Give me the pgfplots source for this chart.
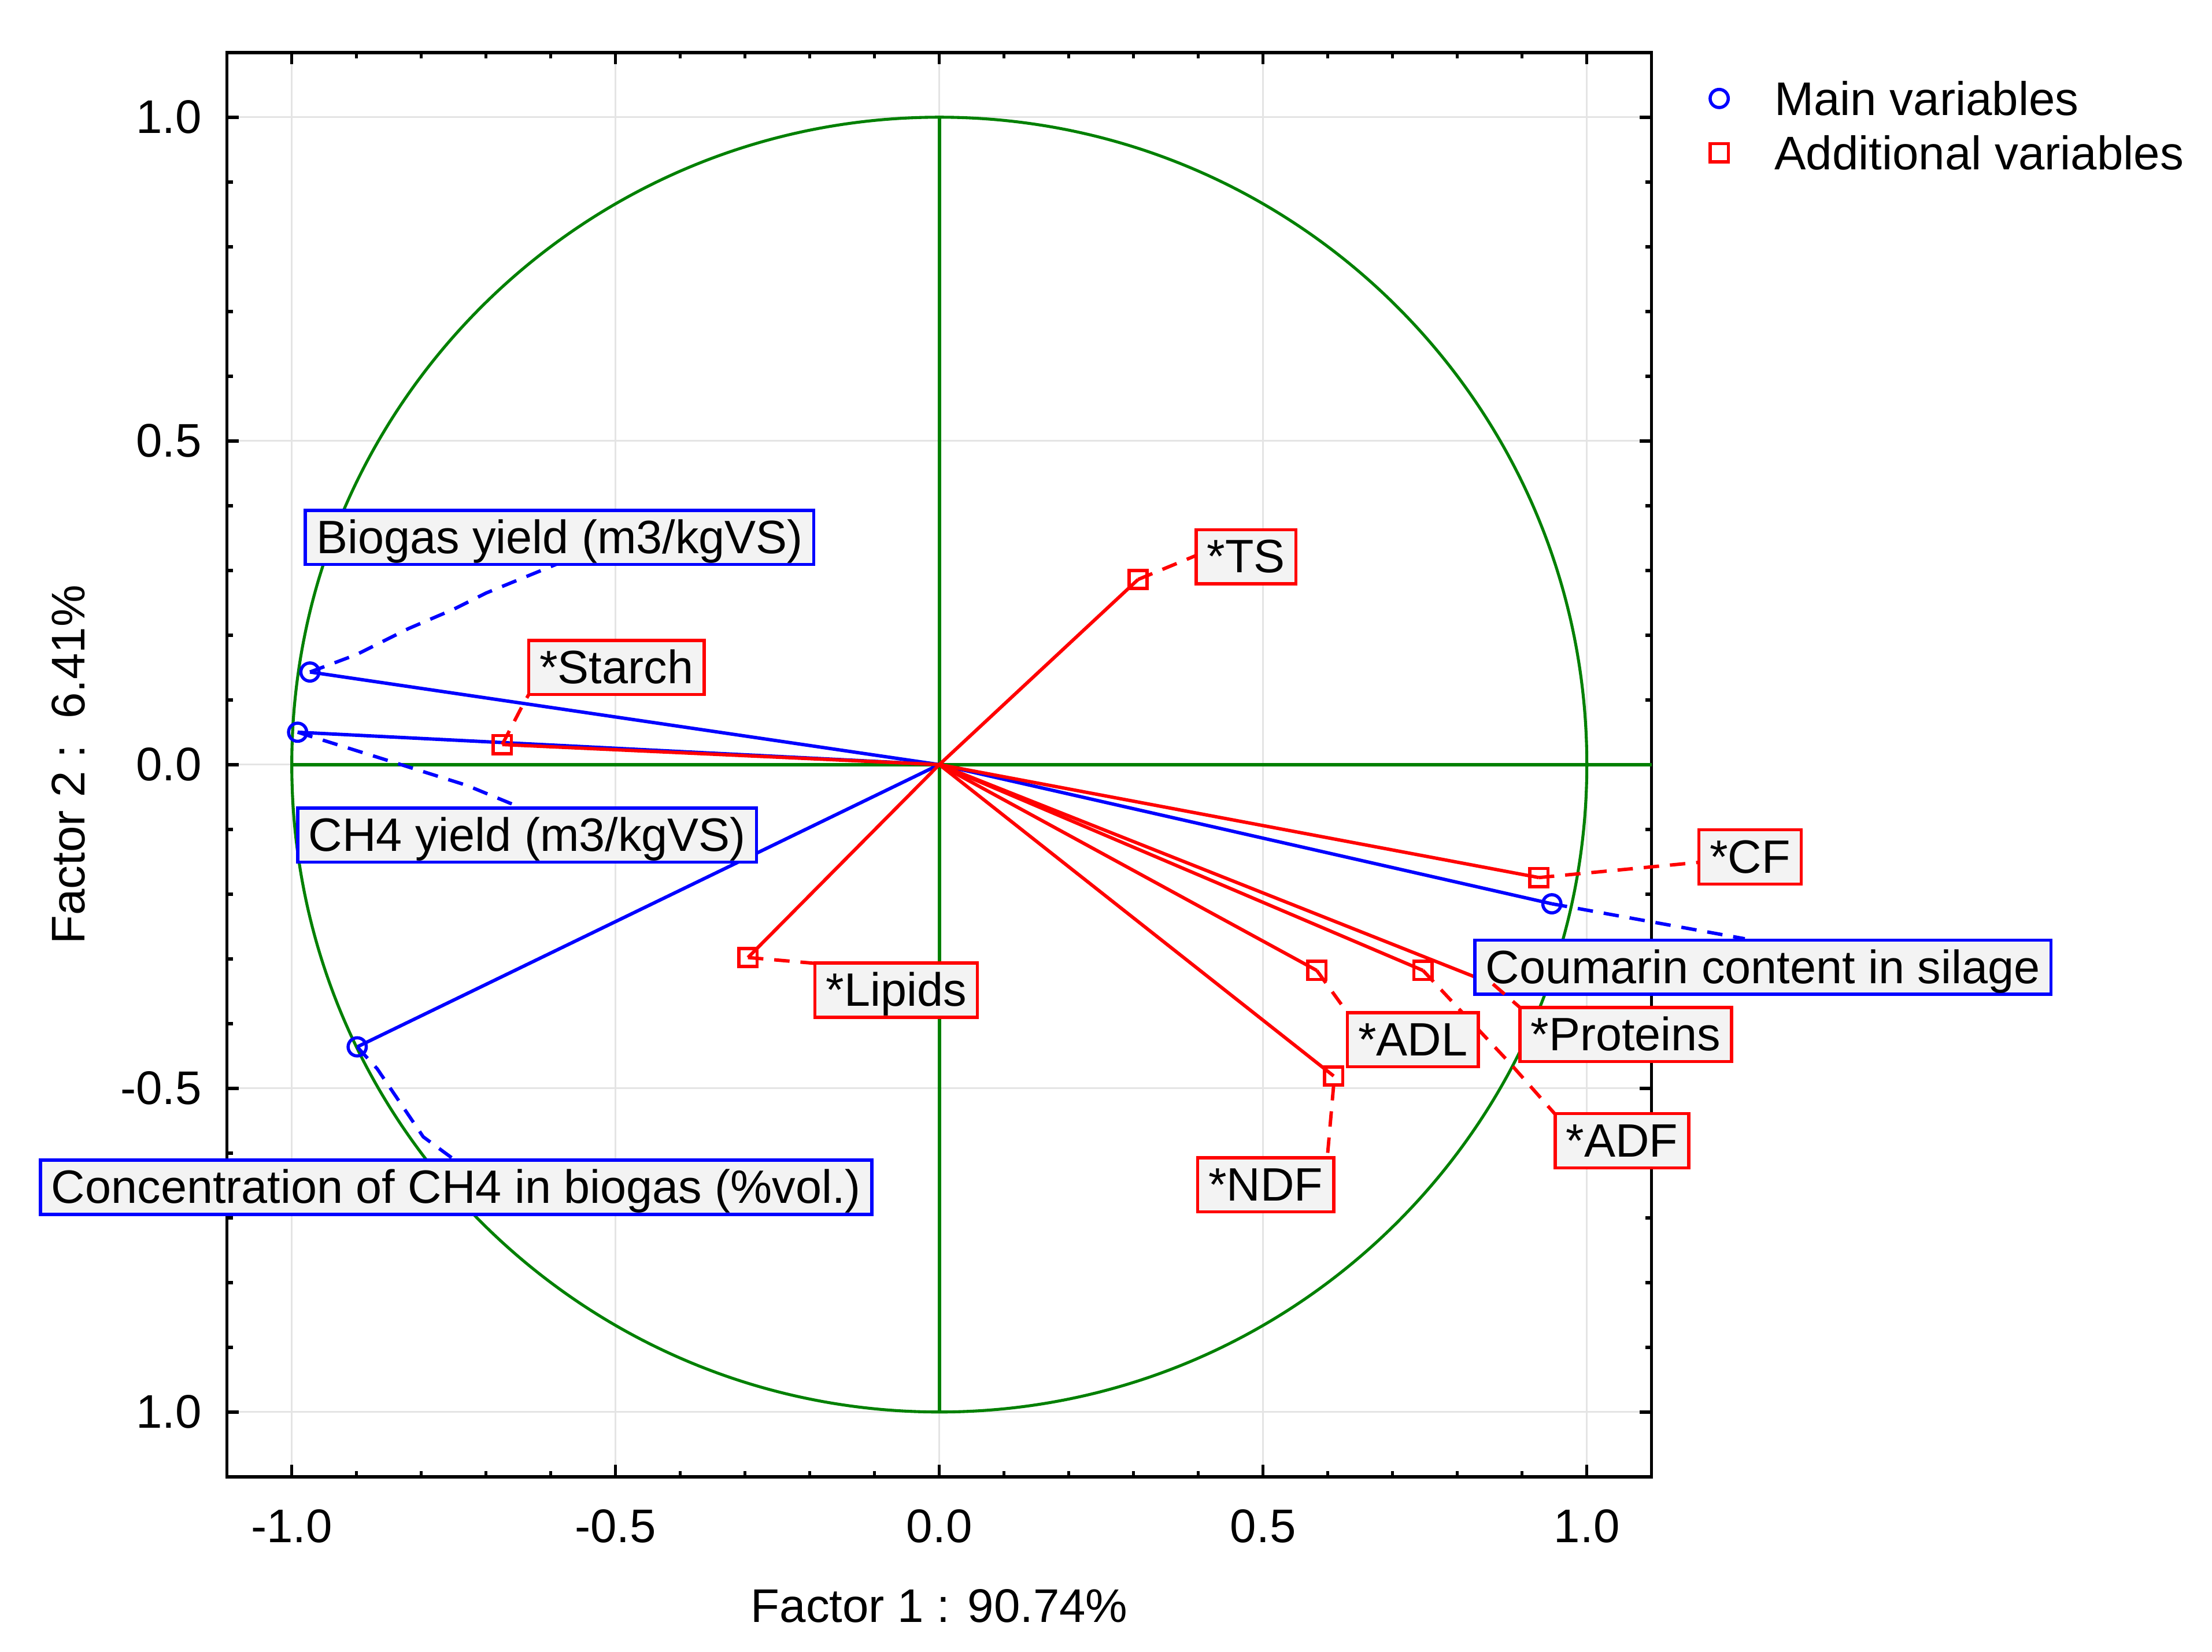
\documentclass[border=0pt]{standalone}
\usepackage{pgfplots}
\pgfplotsset{compat=1.18}
\usepackage{fontspec}
\setmainfont{Liberation Sans}
\definecolor{cgreen}{RGB}{0,128,0}
\definecolor{cblue}{RGB}{0,0,255}
\definecolor{cred}{RGB}{255,0,0}
\definecolor{boxfill}{RGB}{243,243,243}
\definecolor{gridgray}{RGB}{228,228,228}
\tikzset{
  lab/.style={draw=#1, fill=boxfill, line width=0.7pt, inner xsep=2.4pt, inner ysep=0pt,
    outer sep=0pt, text height=9.5pt, text depth=2.45pt, anchor=west,
    font=\fontsize{10.32}{12}\selectfont},
  conn/.style={#1, line width=0.75pt, dash pattern=on 3.4pt off 2.4pt},
}
\begin{document}
\begin{tikzpicture}
\useasboundingbox (-50.04pt,-38.63pt) rectangle (437.47pt,325.53pt);
\begin{axis}[
  at={(0pt,0pt)}, anchor=south west,
  scale only axis, width=313.96pt, height=313.96pt,
  xmin=-1.1, xmax=1.1, ymin=-1.1, ymax=1.1,
  clip=false,
  axis line style={line width=0.7pt, black},
  tick align=inside,
  xtick={-1,-0.5,0,0.5,1}, ytick={-1,-0.5,0,0.5,1},
  xticklabels={-1.0,-0.5,0.0,0.5,1.0},
  yticklabels={1.0,-0.5,0.0,0.5,1.0},
  minor tick num=4,
  major tick length=2.6pt, minor tick length=1.3pt,
  tick style={black, line width=0.7pt},
  grid=major, major grid style={gridgray, line width=0.4pt},
  tick label style={font=\fontsize{10.4}{12}\selectfont},
  xticklabel style={anchor=base, yshift=-14.5pt, inner sep=0pt},
  yticklabel style={anchor=east, xshift=-5.4pt, inner sep=0pt},
  xlabel={Factor 1 : 90.74\%},
  ylabel={Factor 2 :\ \ 6.41\%},
  label style={font=\fontsize{10.4}{12}\selectfont},
  xlabel style={at={(axis description cs:0.5,-0.1022)}, anchor=base, inner sep=0pt},
  ylabel style={at={(axis description cs:-0.1,0.5)}, anchor=base, inner sep=0pt},
  legend style={at={(axis description cs:1,1)}, anchor=north west, xshift=12.9pt, yshift=-4.16pt,
    draw=none, fill=none, inner sep=0pt, outer sep=0pt, row sep=0pt, column sep=10.2pt,
    font=\fontsize{10.4}{12}\selectfont,
    nodes={inner sep=0pt, text height=9.7pt, text depth=2.26pt}},
  legend cell align=left,
  legend image code/.code={\draw[mark repeat=1,#1] plot coordinates {(2.7pt,0pt)};},
]
% reference lines
\addplot[cgreen, line width=0.75pt, forget plot] coordinates {(-1,0) (1.1,0)};
\addplot[cgreen, line width=0.75pt, forget plot] coordinates {(0,-1) (0,1)};
\draw[cgreen, line width=0.65pt] (axis cs:0,0) circle[radius=142.71pt];
% main variable vectors
\addplot[cblue, line width=0.75pt, forget plot] coordinates {(0,0) (-0.972,0.143)};
\addplot[cblue, line width=0.75pt, forget plot] coordinates {(0,0) (-0.991,0.050)};
\addplot[cblue, line width=0.75pt, forget plot] coordinates {(0,0) (-0.899,-0.436)};
\addplot[cblue, line width=0.75pt, forget plot] coordinates {(0,0) (0.946,-0.215)};
% additional variable vectors
\addplot[cred, line width=0.75pt, forget plot] coordinates {(0,0) (-0.675,0.031)};
\addplot[cred, line width=0.75pt, forget plot] coordinates {(0,0) (0.307,0.286)};
\addplot[cred, line width=0.75pt, forget plot] coordinates {(0,0) (-0.2955,-0.298)};
\addplot[cred, line width=0.75pt, forget plot] coordinates {(0,0) (0.926,-0.1745)};
\addplot[cred, line width=0.75pt, forget plot] coordinates {(0,0) (0.583,-0.318)};
\addplot[cred, line width=0.75pt, forget plot] coordinates {(0,0) (0.747,-0.318)};
\addplot[cred, line width=0.75pt, forget plot] coordinates {(0,0) (0.855,-0.339)};
\addplot[cred, line width=0.75pt, forget plot] coordinates {(0,0) (0.609,-0.481)};
% markers
\addplot[cblue, only marks, mark=o, mark size=2pt, mark options={line width=0.7pt, solid}]
  coordinates {(-0.972,0.143) (-0.991,0.050) (-0.899,-0.436) (0.946,-0.215)};
\addlegendentry{Main variables}
\addplot[cred, only marks, mark=square, mark size=2pt, mark options={line width=0.7pt, solid}]
  coordinates {(-0.675,0.031) (0.307,0.286) (-0.2955,-0.298) (0.926,-0.1745) (0.583,-0.318)
               (0.747,-0.318) (0.855,-0.339) (0.609,-0.481)};
\addlegendentry{Additional variables}
% connectors
\draw[conn=cblue] (axis cs:-0.972,0.143) -- (axis cs:-0.90,0.17) -- (axis cs:-0.82,0.21) -- (axis cs:-0.75,0.24) -- (axis cs:-0.70,0.265) -- (axis cs:-0.59,0.31);
\draw[conn=cblue] (axis cs:-0.991,0.05) -- (axis cs:-0.86,0.009) -- (axis cs:-0.73,-0.032) -- (axis cs:-0.645,-0.067);
\draw[conn=cblue] (axis cs:-0.899,-0.436) -- (axis cs:-0.868,-0.47) -- (axis cs:-0.797,-0.575) -- (axis cs:-0.748,-0.611);
\draw[conn=cblue] (axis cs:0.946,-0.215) -- (axis cs:1.244,-0.269);
\draw[conn=cred] (axis cs:-0.675,0.031) -- (axis cs:-0.642,0.0945) -- (axis cs:-0.634,0.1084);
\draw[conn=cred] (axis cs:0.307,0.286) -- (axis cs:0.3965,0.323);
\draw[conn=cred] (axis cs:-0.2955,-0.298) -- (axis cs:-0.192,-0.307);
\draw[conn=cred] (axis cs:0.926,-0.1745) -- (axis cs:1.173,-0.151);
\draw[conn=cred] (axis cs:0.583,-0.318) -- (axis cs:0.630,-0.383);
\draw[conn=cred] (axis cs:0.747,-0.318) -- (axis cs:0.805,-0.38) -- (axis cs:0.882,-0.462) -- (axis cs:0.951,-0.54);
\draw[conn=cred] (axis cs:0.609,-0.495) -- (axis cs:0.5991,-0.608);
% label anchor points
\coordinate (Lbio) at (axis cs:-0.979,0.351);
\coordinate (Lsta) at (axis cs:-0.634,0.150);
\coordinate (Lch4) at (axis cs:-0.991,-0.109);
\coordinate (Lcon) at (axis cs:-1.388,-0.653);
\coordinate (Llip) at (axis cs:-0.192,-0.3485);
\coordinate (Lts)  at (axis cs:0.3965,0.321);
\coordinate (Lcf)  at (axis cs:1.173,-0.1425);
\coordinate (Lcou) at (axis cs:0.827,-0.313);
\coordinate (Ladl) at (axis cs:0.630,-0.425);
\coordinate (Lpro) at (axis cs:0.8965,-0.417);
\coordinate (Ladf) at (axis cs:0.951,-0.581);
\coordinate (Lndf) at (axis cs:0.399,-0.649);
\coordinate (Pa) at (axis cs:0.855,-0.339);
\coordinate (Pb) at (axis cs:0.8965,-0.375);
\end{axis}
% labels drawn above markers
\node[lab=cblue] at (Lbio) {Biogas yield (m3/kgVS)};
\node[lab=cred] at (Lsta) {*Starch};
\node[lab=cblue] at (Lch4) {CH4 yield (m3/kgVS)};
\node[lab=cblue] at (Lcon) {Concentration of CH4 in biogas (\%vol.)};
\node[lab=cred] at (Llip) {*Lipids};
\node[lab=cred] at (Lts) {*TS};
\node[lab=cred] at (Lcf) {*CF};
\node[lab=cblue] at (Lcou) {Coumarin content in silage};
\node[lab=cred] at (Ladl) {*ADL};
\node[lab=cred] at (Lpro) {*Proteins};
\node[lab=cred] at (Ladf) {*ADF};
\node[lab=cred] at (Lndf) {*NDF};
\draw[conn=cred] (Pa) -- (Pb);
\end{tikzpicture}
\end{document}
